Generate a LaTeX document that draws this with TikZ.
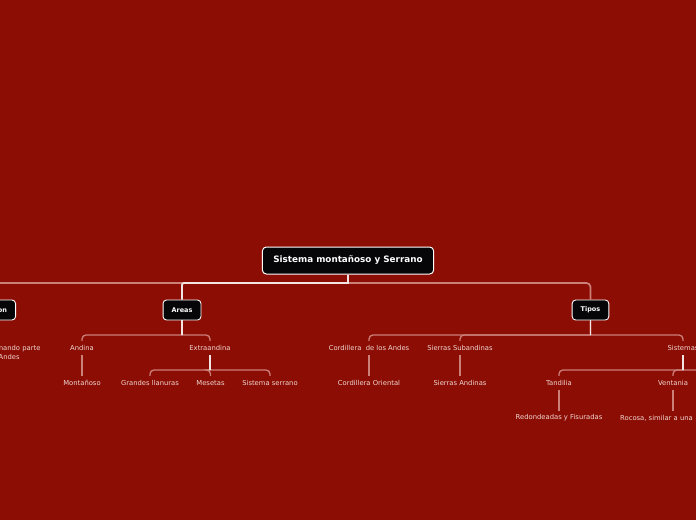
\documentclass[tikz,border=0pt]{standalone}
\usepackage{fontspec}
\setmainfont{DejaVu Sans}
\usepackage{xcolor}

\definecolor{mapred}{RGB}{139,13,3}
\definecolor{boxblack}{RGB}{6,6,8}
\definecolor{leaftext}{RGB}{240,214,210}
\definecolor{linkpink}{RGB}{204,128,122}
\definecolor{linkwhite}{RGB}{242,230,228}

\begin{document}
\begin{tikzpicture}[x=1pt,y=-1pt,
    rootbox/.style={fill=boxblack,draw=white,line width=1pt,rounded corners=4pt,
        text=white,font=\bfseries\fontsize{8.8}{10}\selectfont,
        minimum height=27pt,inner xsep=11pt},
    mainbox/.style={fill=boxblack,draw=white,line width=0.9pt,rounded corners=3.5pt,
        text=white,font=\bfseries\fontsize{6.5}{8}\selectfont,
        minimum height=20pt,inner xsep=8.5pt},
    leaf/.style={text=leaftext,font=\fontsize{6.8}{9}\selectfont,
        minimum height=14pt,inner sep=2pt},
    conn/.style={draw=linkpink,line width=1.3pt},
    trunk/.style={conn,line width=1.7pt},
    stem/.style={draw=linkwhite,line width=1.7pt}]
    % Page and background
    \useasboundingbox (0,0) rectangle (696,520);
    \clip (0,0) rectangle (696,520);
    \fill[mapred] (0,0) rectangle (696,520);
    % Levels of the horizontal connector lines
    \coordinate (lvl1) at (0,283);
    \coordinate (lvl2) at (0,335);
    \coordinate (lvl3) at (0,370);
    \coordinate (lvl4) at (0,405);
    % Central topic and main topics
    \node[rootbox] (root) at (348,260.5) {Sistema montañoso y Serrano};
    \node[mainbox,anchor=east] (ubic) at (16,310) {Ubicacion};
    \node[mainbox] (areas) at (182,310) {Areas};
    \node[mainbox] (tipos) at (590.5,310) {Tipos};
    % Subtopics
    \node[leaf,align=center] (oeste) at (-2,352.5) {Al oeste, formando parte\\de los Andes};
    \node[leaf] (andina) at (82,348) {Andina};
    \node[leaf] (extra) at (210,348) {Extraandina};
    \node[leaf] (cordillera) at (369,348) {Cordillera~ de los Andes};
    \node[leaf] (subandinas) at (460,348) {Sierras Subandinas};
    \node[leaf] (sistemas) at (683,348) {Sistemas};
    \node[leaf] (montanoso) at (82,383) {Montañoso};
    \node[leaf] (llanuras) at (150,383) {Grandes llanuras};
    \node[leaf] (mesetas) at (210.5,383) {Mesetas};
    \node[leaf] (serrano) at (270,383) {Sistema serrano};
    \node[leaf] (oriental) at (369,383) {Cordillera Oriental};
    \node[leaf] (sandinas) at (460,383) {Sierras Andinas};
    \node[leaf] (tandilia) at (559,383) {Tandilia};
    \node[leaf] (ventania) at (673,383) {Ventania};
    \coordinate (sisnext) at (760,377);
    \node[leaf] (redondeadas) at (559,418) {Redondeadas y Fisuradas};
    \node[leaf,anchor=west] (rocosa) at (618,418) {Rocosa, similar a una};
    % Connectors from the central topic
    \draw[trunk] (root.south) -- (root.south |- lvl1) [rounded corners=4pt] -- (ubic.north |- lvl1) -- (ubic.north);
    \draw[trunk] (root.south) -- (root.south |- lvl1) [rounded corners=4pt] -- (tipos.north |- lvl1) -- (tipos.north);
    \draw[trunk,draw=linkwhite] (root.south) -- (root.south |- lvl1) [rounded corners=2pt] -- (areas.north |- lvl1) -- (areas.north);
    % Connectors from the main topics
    \draw[conn] (ubic.south) -- (ubic.south |- lvl2) [rounded corners=4pt] -- (oeste.north |- lvl2) -- (oeste.north);
    \draw[conn] (areas.south) -- (areas.south |- lvl2) [rounded corners=4pt] -- (andina.north |- lvl2) -- (andina.north);
    \draw[conn] (areas.south) -- (areas.south |- lvl2) [rounded corners=4pt] -- (extra.north |- lvl2) -- (extra.north);
    \draw[conn] (tipos.south) -- (tipos.south |- lvl2) [rounded corners=4pt] -- (cordillera.north |- lvl2) -- (cordillera.north);
    \draw[conn] (tipos.south) -- (tipos.south |- lvl2) [rounded corners=4pt] -- (subandinas.north |- lvl2) -- (subandinas.north);
    \draw[conn] (tipos.south) -- (tipos.south |- lvl2) [rounded corners=4pt] -- (sistemas.north |- lvl2) -- (sistemas.north);
    % Connectors from the subtopics
    \draw[conn] (andina.south) -- (montanoso.north);
    \draw[conn] (extra.south) -- (extra.south |- lvl3) [rounded corners=4pt] -- (llanuras.north |- lvl3) -- (llanuras.north);
    \draw[conn] (extra.south) -- (extra.south |- lvl3) [rounded corners=4pt] -- (mesetas.north |- lvl3) -- (mesetas.north);
    \draw[conn] (extra.south) -- (extra.south |- lvl3) [rounded corners=4pt] -- (serrano.north |- lvl3) -- (serrano.north);
    \draw[conn] (cordillera.south) -- (oriental.north);
    \draw[conn] (subandinas.south) -- (sandinas.north);
    \draw[conn] (sistemas.south) -- (sistemas.south |- lvl3) [rounded corners=4pt] -- (tandilia.north |- lvl3) -- (tandilia.north);
    \draw[conn] (sistemas.south) -- (sistemas.south |- lvl3) [rounded corners=4pt] -- (ventania.north |- lvl3) -- (ventania.north);
    \draw[conn] (sistemas.south) -- (sistemas.south |- lvl3) [rounded corners=4pt] -- (sisnext |- lvl3) -- (sisnext);
    \draw[conn] (tandilia.south) -- (redondeadas.north);
    \draw[conn] (ventania.south) -- (ventania.south |- rocosa.north);
    % Brighter stems below the parents
    \draw[stem] (root.south) -- (root.south |- lvl1);
    \draw[stem] (areas.south) -- (areas.south |- lvl2);
    \draw[stem] (tipos.south) -- (tipos.south |- lvl2);
    \draw[stem] (extra.south) -- (extra.south |- lvl3);
    \draw[stem] (sistemas.south) -- (sistemas.south |- lvl3);
\end{tikzpicture}
\end{document}
